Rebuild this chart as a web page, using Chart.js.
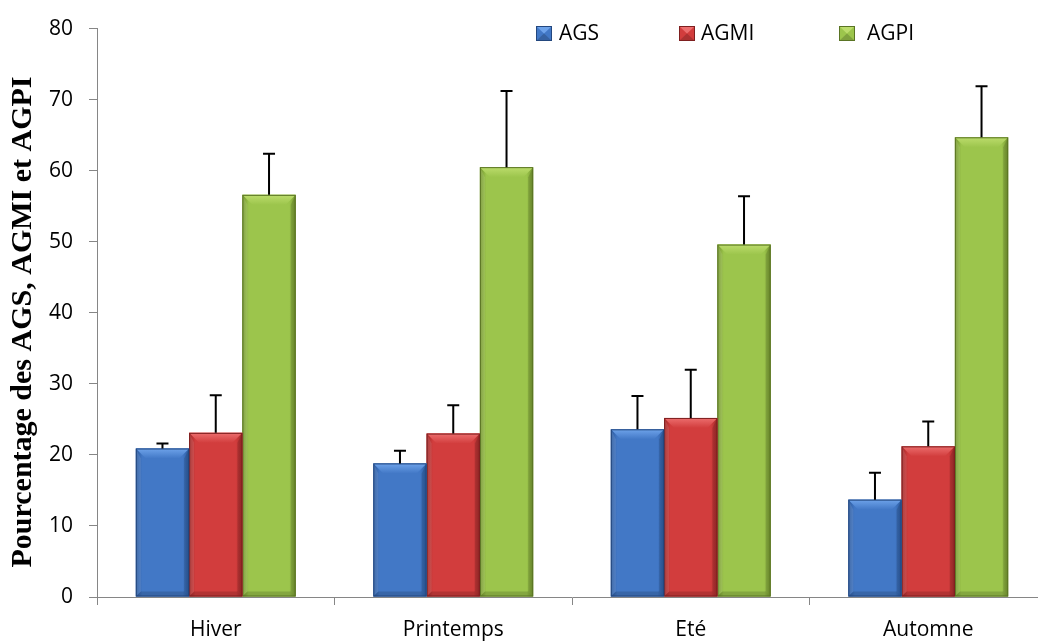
<!DOCTYPE html>
<html><head><meta charset="utf-8">
<script src="https://cdn.jsdelivr.net/npm/chart.js@4.4.0/dist/chart.umd.min.js"></script>
<style>html,body{margin:0;padding:0;background:#fff;overflow:hidden;width:1038px;height:642px}canvas{display:block}</style>
</head><body><canvas id="c" width="1060" height="642"></canvas>
<script>
// ---- data ----
const categories = ['Hiver', 'Printemps', 'Eté', 'Automne'];
const seriesNames = ['AGS', 'AGMI', 'AGPI'];
const agsValues  = [20.9, 18.8, 23.6, 13.7];
const agsErrors  = [0.7, 1.8, 4.7, 3.8];
const agmiValues = [23.1, 23.0, 25.2, 21.2];
const agmiErrors = [5.3, 4.0, 6.8, 3.5];
const agpiValues = [56.6, 60.5, 49.6, 64.7];
const agpiErrors = [5.8, 10.7, 6.8, 7.2];
const yMin = 0, yMax = 80, yStep = 10;
const yTitle = 'Pourcentage des AGS, AGMI et AGPI';

// ---- styles ----
const palettes = [
  {main:'#4278c6', light:'#6ea3ea', dark:'#2c5a9e', edge:'#23477e'},
  {main:'#d23d3d', light:'#ec6e6e', dark:'#a02a2a', edge:'#7e1f1f'},
  {main:'#9cc54c', light:'#bcdc6c', dark:'#74952f', edge:'#5a7424'}
];
const errorSets = [agsErrors, agmiErrors, agpiErrors];
const axisGrey = '#868686';
const tickFont = {family:'Open Sans', size:21};

const bevelPlugin = {
  id:'bevel',
  afterDatasetDraw(chart, args) {
    const ctx = chart.ctx;
    const pal = palettes[args.index];
    args.meta.data.forEach(el => {
      const p = el.getProps(['x','y','base','width'], true);
      const l = p.x - p.width/2, r = p.x + p.width/2, t = p.y, b = p.base, w = p.width;
      const bt = Math.min(10, (b-t)/2), bs = 5;
      ctx.save();
      const g = ctx.createLinearGradient(l,0,r,0);
      g.addColorStop(0, pal.dark); g.addColorStop(0.12, pal.main);
      g.addColorStop(0.88, pal.main); g.addColorStop(1, pal.dark);
      ctx.fillStyle = g; ctx.fillRect(l, t, w, b-t);
      const tg = ctx.createLinearGradient(0,t,0,t+bt);
      tg.addColorStop(0, pal.light); tg.addColorStop(1, pal.main);
      ctx.fillStyle = tg;
      ctx.beginPath(); ctx.moveTo(l,t); ctx.lineTo(r,t); ctx.lineTo(r-bs*2,t+bt); ctx.lineTo(l+bs*2,t+bt); ctx.closePath(); ctx.fill();
      ctx.fillStyle = 'rgba(255,255,255,0.10)';
      ctx.beginPath(); ctx.moveTo(l,t); ctx.lineTo(l+bs,t+bt); ctx.lineTo(l+bs,b-bs); ctx.lineTo(l,b); ctx.closePath(); ctx.fill();
      ctx.fillStyle = 'rgba(0,0,0,0.12)';
      ctx.beginPath(); ctx.moveTo(r,t); ctx.lineTo(r-bs,t+bt); ctx.lineTo(r-bs,b-bs); ctx.lineTo(r,b); ctx.closePath(); ctx.fill();
      ctx.fillStyle = 'rgba(0,0,0,0.15)';
      ctx.beginPath(); ctx.moveTo(l,b); ctx.lineTo(l+bs,b-bs); ctx.lineTo(r-bs,b-bs); ctx.lineTo(r,b); ctx.closePath(); ctx.fill();
      ctx.strokeStyle = pal.edge; ctx.lineWidth = 1;
      ctx.strokeRect(l+0.5, t+0.5, w-1, b-t-1);
      ctx.restore();
    });
  }
};

const errorBarPlugin = {
  id:'errbars',
  afterDatasetsDraw(chart) {
    const ctx = chart.ctx, ys = chart.scales.y;
    chart.data.datasets.forEach((ds, i) => {
      const meta = chart.getDatasetMeta(i);
      meta.data.forEach((el, j) => {
        const top = ys.getPixelForValue(ds.data[j] + errorSets[i][j]);
        ctx.save();
        ctx.strokeStyle = '#000'; ctx.lineWidth = 2;
        ctx.beginPath();
        ctx.moveTo(el.x, el.y); ctx.lineTo(el.x, top);
        ctx.moveTo(el.x-6, top); ctx.lineTo(el.x+6, top);
        ctx.stroke();
        ctx.restore();
      });
    });
  }
};

const titlePlugin = {
  id:'yTitle',
  afterDraw(chart) {
    const ctx = chart.ctx;
    ctx.save();
    ctx.translate(23, 322);
    ctx.rotate(-Math.PI/2);
    ctx.font = 'bold 30px "Liberation Serif"';
    ctx.fillStyle = '#000'; ctx.textAlign = 'center'; ctx.textBaseline = 'middle';
    ctx.fillText(yTitle, 0, 0);
    ctx.restore();
  }
};

const legendPos = [{box:536, text:559}, {box:679, text:701}, {box:839, text:867}];
const legendPlugin = {
  id:'customLegend',
  afterDraw(chart) {
    const ctx = chart.ctx, cy = 34;
    chart.data.datasets.forEach((ds, i) => {
      const pal = palettes[i], p = legendPos[i];
      const x = p.box, y = cy - 8, s = 16, h = 15;
      ctx.save();
      ctx.fillStyle = pal.main; ctx.fillRect(x, y, s, h);
      ctx.fillStyle = pal.light;
      ctx.beginPath(); ctx.moveTo(x,y); ctx.lineTo(x+s,y); ctx.lineTo(x+s/2,y+h/2); ctx.closePath(); ctx.fill();
      ctx.fillStyle = 'rgba(0,0,0,0.18)';
      ctx.beginPath(); ctx.moveTo(x,y+h); ctx.lineTo(x+s,y+h); ctx.lineTo(x+s/2,y+h/2); ctx.closePath(); ctx.fill();
      ctx.strokeStyle = pal.edge; ctx.lineWidth = 1; ctx.strokeRect(x+0.5, y+0.5, s-1, h-1);
      ctx.fillStyle = '#000';
      ctx.font = '21px "Open Sans"';
      ctx.textBaseline = 'middle'; ctx.textAlign = 'left';
      ctx.fillText(ds.label, p.text, cy);
      ctx.restore();
    });
  }
};

const valueSets = [agsValues, agmiValues, agpiValues];
new Chart(document.getElementById('c'), {
  type:'bar',
  data:{
    labels: categories,
    datasets: seriesNames.map((n, i) => ({
      label: n, data: valueSets[i],
      backgroundColor: palettes[i].main, borderWidth: 0,
      barPercentage: 1.0, categoryPercentage: 0.673
    }))
  },
  options:{
    responsive:false, animation:false, devicePixelRatio:1,
    layout:{padding:{left:0, right:13, top:25, bottom:0}},
    plugins:{legend:{display:false}, tooltip:{enabled:false}},
    scales:{
      x:{
        grid:{drawOnChartArea:false, tickLength:8, color:axisGrey, tickColor:axisGrey, offset:true},
        border:{color:axisGrey, width:1},
        ticks:{font:tickFont, color:'#000', padding:12},
        afterFit(s){ s.height = 45; }
      },
      y:{
        min:yMin, max:yMax,
        grid:{drawOnChartArea:false, tickLength:8, color:axisGrey, tickColor:axisGrey},
        border:{color:axisGrey, width:1},
        ticks:{stepSize:yStep, font:tickFont, color:'#000', padding:16},
        afterFit(s){ s.width = 97; }
      }
    }
  },
  plugins:[bevelPlugin, errorBarPlugin, titlePlugin, legendPlugin]
});
</script></body></html>
